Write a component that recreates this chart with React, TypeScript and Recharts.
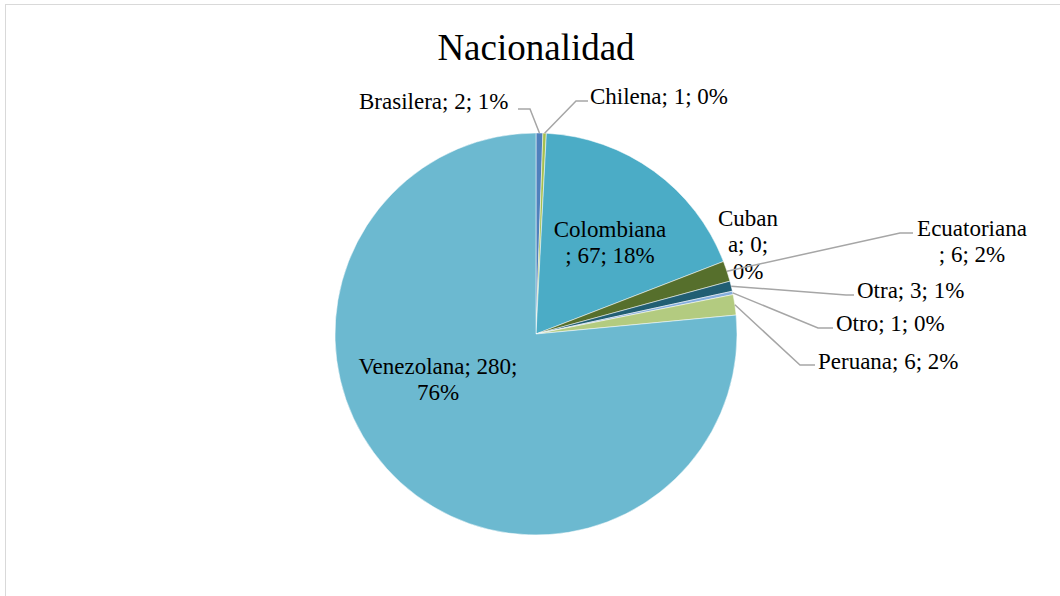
import { PieChart, Pie, Cell } from 'recharts';

const categories = ['Brasilera', 'Chilena', 'Colombiana', 'Cubana', 'Ecuatoriana', 'Otra', 'Otro', 'Peruana', 'Venezolana'];
const counts = [2, 1, 67, 0, 6, 3, 1, 6, 280];
const percentLabels = ['1%', '0%', '18%', '0%', '2%', '1%', '0%', '2%', '76%'];
const colors = ['#4F81BD', '#A5C04F', '#4BACC6', '#F79646', '#566F2C', '#215E73', '#86AEDD', '#B3CB80', '#6CB9D0'];

const data = categories.map((name, i) => ({ name, value: counts[i], pct: percentLabels[i] }));

const FONT = '"Liberation Serif", "Times New Roman", serif';
const RADIAN = Math.PI / 180;

// where each label sits (text lines, anchor) and the elbow/end of its leader line
interface LabelPos {
  lines: (v: number, p: string) => string[];
  x: number;
  y: number;
  anchor: 'start' | 'middle' | 'end';
  elbow?: [number, number];
  end?: [number, number];
}

const labelPos: Record<string, LabelPos> = {
  Brasilera: { lines: (v, p) => [`Brasilera; ${v}; ${p}`], x: 359, y: 101, anchor: 'start', elbow: [530, 109], end: [518, 109] },
  Chilena: { lines: (v, p) => [`Chilena; ${v}; ${p}`], x: 590, y: 96, anchor: 'start', elbow: [576, 101], end: [588, 101] },
  Colombiana: { lines: (v, p) => ['Colombiana', `; ${v}; ${p}`], x: 610, y: 229, anchor: 'middle' },
  Cubana: { lines: (v, p) => ['Cuban', `a; ${v};`, p], x: 748, y: 218, anchor: 'middle' },
  Ecuatoriana: { lines: (v, p) => ['Ecuatoriana', `; ${v}; ${p}`], x: 972, y: 228, anchor: 'middle', elbow: [900, 233], end: [913, 233] },
  Otra: { lines: (v, p) => [`Otra; ${v}; ${p}`], x: 857, y: 290, anchor: 'start', elbow: [846, 295], end: [854, 295] },
  Otro: { lines: (v, p) => [`Otro; ${v}; ${p}`], x: 836, y: 323, anchor: 'start', elbow: [818, 328], end: [833, 328] },
  Peruana: { lines: (v, p) => [`Peruana; ${v}; ${p}`], x: 818, y: 361, anchor: 'start', elbow: [800, 365], end: [815, 365] },
  Venezolana: { lines: (v, p) => [`Venezolana; ${v};`, p], x: 438, y: 366, anchor: 'middle' },
};

const renderLabel = (props: any) => {
  const { cx, cy, midAngle, outerRadius, name, value, payload } = props;
  const pos = labelPos[name];
  if (!pos) return null;
  const ex = cx + outerRadius * Math.cos(-midAngle * RADIAN);
  const ey = cy + outerRadius * Math.sin(-midAngle * RADIAN);
  const lines = pos.lines(value, payload?.pct ?? '');
  return (
    <g>
      {pos.elbow && pos.end && (
        <polyline
          points={`${ex},${ey} ${pos.elbow[0]},${pos.elbow[1]} ${pos.end[0]},${pos.end[1]}`}
          fill="none"
          stroke="#A6A6A6"
          strokeWidth={1.5}
        />
      )}
      {lines.map((t, i) => (
        <text
          key={i}
          x={pos.x}
          y={pos.y + i * 26.5}
          textAnchor={pos.anchor}
          dominantBaseline="central"
          fill="#000"
          fontSize={23}
          fontFamily={FONT}
        >
          {t}
        </text>
      ))}
    </g>
  );
};

export default function App() {
  return (
    <div style={{ position: 'absolute', left: 0, top: 0, width: 1060, height: 596, background: '#fff', overflow: 'hidden' }}>
      <div style={{ position: 'absolute', left: 5, top: 4, width: 1100, height: 640, border: '1px solid #D9D9D9' }} />
      <div
        style={{
          position: 'absolute',
          left: 0,
          width: 1072,
          top: 27,
          textAlign: 'center',
          fontFamily: FONT,
          fontSize: 37,
          lineHeight: '42px',
          color: '#000',
        }}
      >
        Nacionalidad
      </div>
      <div style={{ position: 'absolute', left: 0, top: 0 }}>
        <PieChart width={1060} height={596} margin={{ top: 0, right: 0, bottom: 0, left: 0 }}>
          <Pie
            data={data}
            dataKey="value"
            nameKey="name"
            cx={536}
            cy={334}
            outerRadius={201}
            startAngle={90}
            endAngle={-270}
            stroke="#fff"
            strokeWidth={0.5}
            label={renderLabel}
            labelLine={false}
            isAnimationActive={false}
          >
            {data.map((d, i) => (
              <Cell key={d.name} fill={colors[i]} />
            ))}
          </Pie>
        </PieChart>
      </div>
    </div>
  );
}
